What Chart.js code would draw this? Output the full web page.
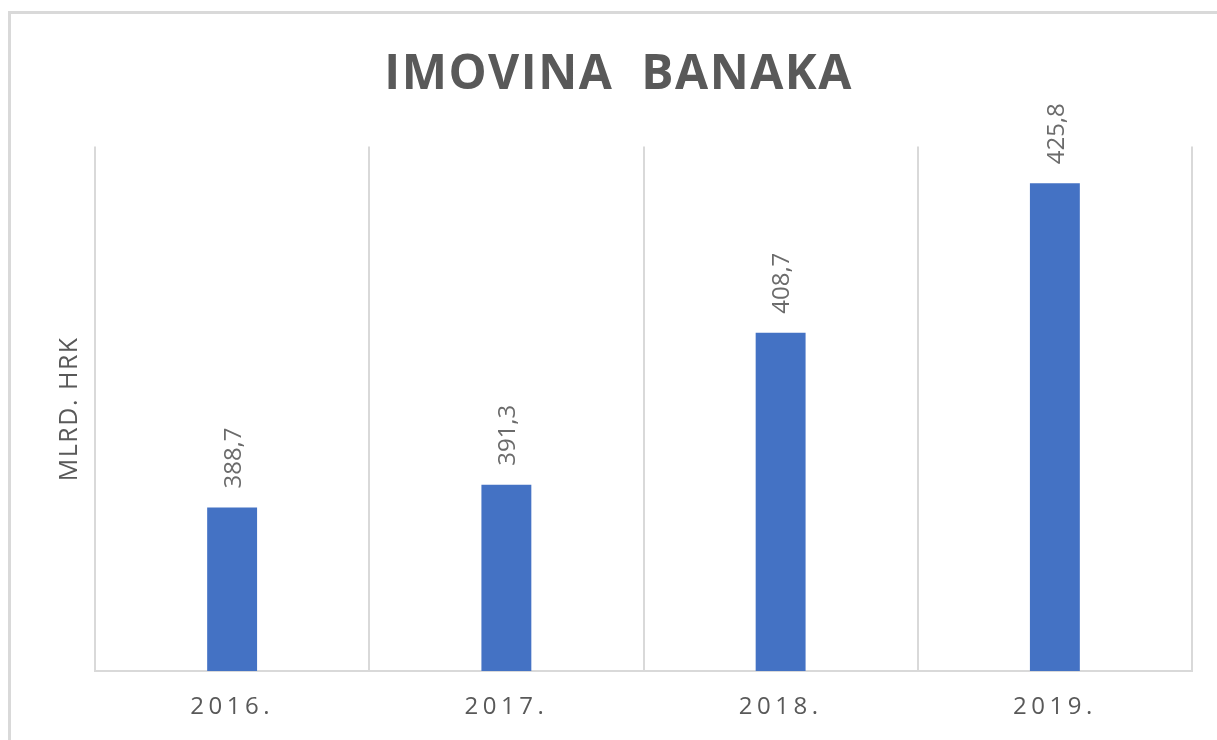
<!DOCTYPE html>
<html>
<head>
<meta charset="utf-8">
<script src="https://cdn.jsdelivr.net/npm/chart.js"></script>
<style>
  html, body { margin: 0; padding: 0; background: #fff; }
  #wrap { position: relative; width: 1217px; height: 740px; overflow: hidden; }
  #frame {
    position: absolute; left: 8px; top: 11px; width: 1300px; height: 800px;
    border-top: 3px solid #d9d9d9; border-left: 3px solid #d9d9d9;
  }
  #myChart { position: absolute; left: 0; top: 0; }
</style>
</head>
<body>
<div id="wrap">
  <div id="frame"></div>
  <canvas id="myChart" width="1217" height="740"></canvas>
</div>
<script>
const years = ["2016.", "2017.", "2018.", "2019."];
const assets = [388.7, 391.3, 408.7, 425.8];
const chartTitle = "IMOVINA  BANAKA";
const yTitle = "MLRD. HRK";

const fontFamily = "'Open Sans', sans-serif";
const textGrey = "#595959";
const lineGrey = "#d9d9d9";

// excel style letter spacing: titles a bit, x labels a lot
const spacing = {
  id: "spacing",
  beforeDraw(chart) {
    chart.ctx.letterSpacing = "1.5px";
  },
  afterDatasetsDraw(chart) {
    chart.ctx.letterSpacing = "4.5px";
  },
};

// value labels above bars, rotated
const barLabels = {
  id: "barLabels",
  afterDraw(chart) {
    const ctx = chart.ctx;
    const meta = chart.getDatasetMeta(0);
    ctx.save();
    ctx.letterSpacing = "0px";
    ctx.font = "24px " + fontFamily;
    ctx.fillStyle = "#6b6b6b";
    ctx.textAlign = "left";
    ctx.textBaseline = "middle";
    meta.data.forEach((bar, i) => {
      ctx.save();
      ctx.translate(bar.x + 2, bar.y - 19);
      ctx.rotate(-Math.PI / 2);
      ctx.fillText(assets[i].toFixed(1).replace(".", ","), 0, 0);
      ctx.restore();
    });
    ctx.restore();
    ctx.letterSpacing = "0px";
  },
};

const data = {
  labels: years,
  datasets: [
    {
      label: "Imovina banaka",
      data: assets,
      backgroundColor: "#4472c4",
      barPercentage: 0.182,
      categoryPercentage: 1,
    },
  ],
};

const config = {
  type: "bar",
  data: data,
  options: {
    responsive: false,
    animation: false,
    layout: {
      padding: { left: 45, right: 25, top: 0, bottom: 0 },
    },
    scales: {
      x: {
        grid: {
          color: lineGrey,
          lineWidth: 2,
          drawTicks: false,
          offset: true,
        },
        border: { color: lineGrey, width: 2 },
        ticks: {
          color: textGrey,
          font: { family: fontFamily, size: 24 },
          padding: 22,
          maxRotation: 0,
          autoSkip: false,
          z: 1,
        },
        afterFit(scale) {
          scale.height = 69;
        },
      },
      y: {
        min: 370,
        max: 430,
        ticks: { display: false },
        grid: { display: false },
        border: { display: false },
        title: {
          display: true,
          text: yTitle,
          color: textGrey,
          font: { family: fontFamily, size: 25 },
          padding: { top: 10, bottom: 0 },
        },
        afterFit(scale) {
          scale.width = 50;
        },
      },
    },
    plugins: {
      legend: { display: false },
      tooltip: { enabled: false },
      title: {
        display: true,
        text: chartTitle,
        color: textGrey,
        font: { family: fontFamily, size: 48, weight: "bold" },
        padding: { top: 47, bottom: 42 },
      },
    },
  },
  plugins: [spacing, barLabels],
};

const myChart = new Chart(document.getElementById("myChart"), config);
</script>
</body>
</html>
